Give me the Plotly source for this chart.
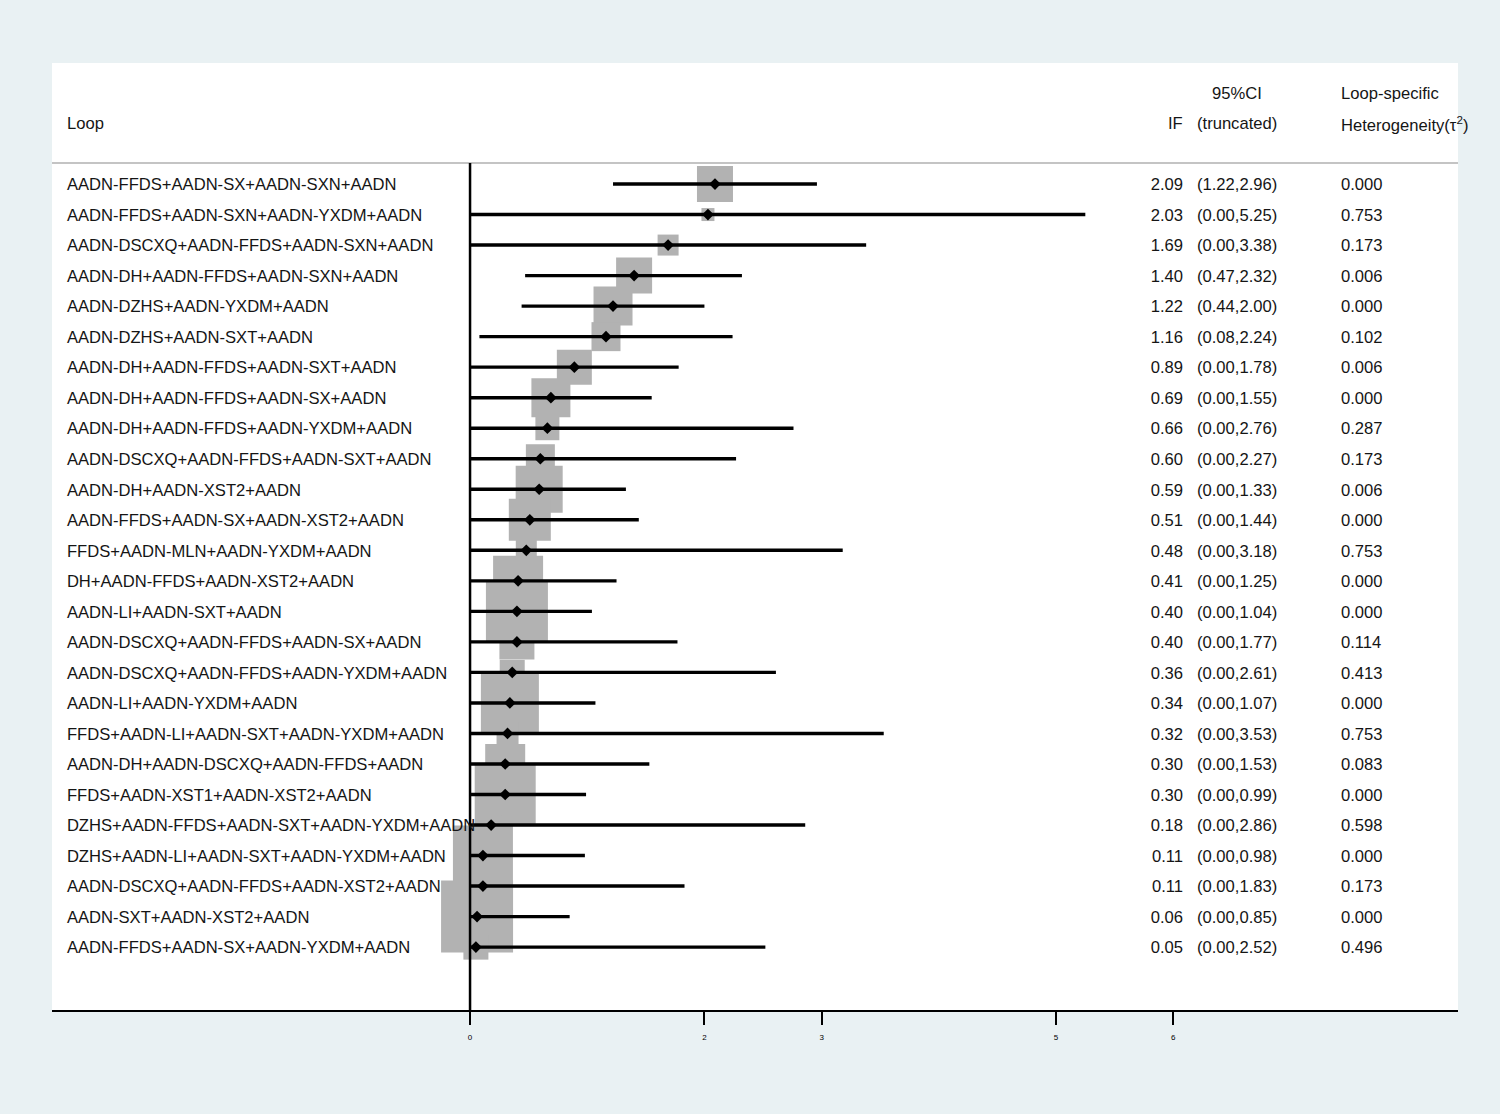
import plotly.graph_objects as go

# loop-specific inconsistency factors (IF) with truncated 95% CI
loops = [
    "AADN-FFDS+AADN-SX+AADN-SXN+AADN",
    "AADN-FFDS+AADN-SXN+AADN-YXDM+AADN",
    "AADN-DSCXQ+AADN-FFDS+AADN-SXN+AADN",
    "AADN-DH+AADN-FFDS+AADN-SXN+AADN",
    "AADN-DZHS+AADN-YXDM+AADN",
    "AADN-DZHS+AADN-SXT+AADN",
    "AADN-DH+AADN-FFDS+AADN-SXT+AADN",
    "AADN-DH+AADN-FFDS+AADN-SX+AADN",
    "AADN-DH+AADN-FFDS+AADN-YXDM+AADN",
    "AADN-DSCXQ+AADN-FFDS+AADN-SXT+AADN",
    "AADN-DH+AADN-XST2+AADN",
    "AADN-FFDS+AADN-SX+AADN-XST2+AADN",
    "FFDS+AADN-MLN+AADN-YXDM+AADN",
    "DH+AADN-FFDS+AADN-XST2+AADN",
    "AADN-LI+AADN-SXT+AADN",
    "AADN-DSCXQ+AADN-FFDS+AADN-SX+AADN",
    "AADN-DSCXQ+AADN-FFDS+AADN-YXDM+AADN",
    "AADN-LI+AADN-YXDM+AADN",
    "FFDS+AADN-LI+AADN-SXT+AADN-YXDM+AADN",
    "AADN-DH+AADN-DSCXQ+AADN-FFDS+AADN",
    "FFDS+AADN-XST1+AADN-XST2+AADN",
    "DZHS+AADN-FFDS+AADN-SXT+AADN-YXDM+AADN",
    "DZHS+AADN-LI+AADN-SXT+AADN-YXDM+AADN",
    "AADN-DSCXQ+AADN-FFDS+AADN-XST2+AADN",
    "AADN-SXT+AADN-XST2+AADN",
    "AADN-FFDS+AADN-SX+AADN-YXDM+AADN",
]
IF = [2.09, 2.03, 1.69, 1.40, 1.22, 1.16, 0.89, 0.69, 0.66, 0.60, 0.59, 0.51, 0.48,
      0.41, 0.40, 0.40, 0.36, 0.34, 0.32, 0.30, 0.30, 0.18, 0.11, 0.11, 0.06, 0.05]
ci_lo = [1.22, 0.00, 0.00, 0.47, 0.44, 0.08, 0.00, 0.00, 0.00, 0.00, 0.00, 0.00, 0.00,
         0.00, 0.00, 0.00, 0.00, 0.00, 0.00, 0.00, 0.00, 0.00, 0.00, 0.00, 0.00, 0.00]
ci_hi = [2.96, 5.25, 3.38, 2.32, 2.00, 2.24, 1.78, 1.55, 2.76, 2.27, 1.33, 1.44, 3.18,
         1.25, 1.04, 1.77, 2.61, 1.07, 3.53, 1.53, 0.99, 2.86, 0.98, 1.83, 0.85, 2.52]
tau2 = ["0.000", "0.753", "0.173", "0.006", "0.000", "0.102", "0.006", "0.000", "0.287",
        "0.173", "0.006", "0.000", "0.753", "0.000", "0.000", "0.114", "0.413", "0.000",
        "0.753", "0.083", "0.000", "0.598", "0.000", "0.173", "0.000", "0.496"]
# relative weights (box size)
weight = [3.6, 1.3, 2.1, 3.6, 3.9, 2.9, 3.5, 3.9, 2.4, 2.9, 4.7, 4.2, 2.1,
          5.0, 6.2, 3.5, 2.5, 5.8, 2.2, 4.0, 6.1, 2.0, 6.0, 5.0, 7.2, 2.5]
xticks = [0, 2, 3, 5, 6]

rows = list(range(len(loops)))
text_rows = [r + 0.07 for r in rows]  # nudge text to sit on the CI line
FONT = "Liberation Sans, Arial, sans-serif"
FS = 16.6
TXT = "#151515"

# column anchors (data units on the IF axis)
X_LABEL, X_IF, X_CI, X_TAU = -3.44, 6.084, 6.203, 7.432
Y_HEAD1, Y_HEAD2, Y_RULE = -2.98, -1.97, -0.69

fig = go.Figure()

fig.add_trace(go.Scatter(
    x=IF, y=rows, mode="markers",
    marker=dict(symbol="square", size=[w * 10 for w in weight], color="#b2b2b2",
                opacity=1, line=dict(width=0)),
    hoverinfo="skip",
))

# reference line at zero
fig.add_trace(go.Scatter(
    x=[0, 0], y=[Y_RULE, 27.1], mode="lines",
    line=dict(color="black", width=2.5), hoverinfo="skip",
))

fig.add_trace(go.Scatter(
    x=IF, y=rows, mode="markers",
    marker=dict(symbol="diamond", size=9, color="black", opacity=1),
    error_x=dict(type="data", symmetric=False,
                 array=[h - v for h, v in zip(ci_hi, IF)],
                 arrayminus=[v - l for l, v in zip(ci_lo, IF)],
                 color="black", thickness=3.4, width=0),
))

fig.add_trace(go.Scatter(
    x=[X_LABEL] * len(rows), y=text_rows, mode="text", text=loops,
    textposition="middle right", textfont=dict(family=FONT, size=FS, color=TXT),
    hoverinfo="skip",
))
fig.add_trace(go.Scatter(
    x=[X_IF] * len(rows), y=text_rows, mode="text", text=[f"{v:.2f}" for v in IF],
    textposition="middle left", textfont=dict(family=FONT, size=FS, color=TXT),
    hoverinfo="skip",
))
fig.add_trace(go.Scatter(
    x=[X_CI] * len(rows), y=text_rows, mode="text",
    text=[f"({l:.2f},{h:.2f})" for l, h in zip(ci_lo, ci_hi)],
    textposition="middle right", textfont=dict(family=FONT, size=FS, color=TXT),
    hoverinfo="skip",
))
fig.add_trace(go.Scatter(
    x=[X_TAU] * len(rows), y=text_rows, mode="text", text=tau2,
    textposition="middle right", textfont=dict(family=FONT, size=FS, color=TXT),
    hoverinfo="skip",
))

heads = [
    ("Loop", X_LABEL - 0.017, Y_HEAD2, "left"),
    ("IF", X_IF + 0.017, Y_HEAD2, "right"),
    ("95%CI", 6.545, Y_HEAD1, "center"),
    ("(truncated)", X_CI - 0.013, Y_HEAD2, "left"),
    ("Loop-specific", X_TAU - 0.017, Y_HEAD1, "left"),
    ("Heterogeneity(τ<sup>2</sup>)", X_TAU - 0.017, Y_HEAD2, "left"),
]
for t, x, y, anc in heads:
    fig.add_annotation(x=x, y=y, text=t, showarrow=False, xanchor=anc, yanchor="middle",
                       font=dict(family=FONT, size=FS, color=TXT))

fig.add_shape(type="line", xref="paper", x0=0, x1=1, yref="y", y0=Y_RULE, y1=Y_RULE,
              line=dict(color="#c4c4c4", width=2), layer="below")

fig.update_layout(
    width=1500, height=1114,
    paper_bgcolor="#e9f1f3", plot_bgcolor="white",
    margin=dict(l=52, r=42, t=63, b=104),
    showlegend=False,
    xaxis=dict(range=[-3.567, 8.43], showgrid=False, zeroline=False,
               showline=True, linecolor="black", linewidth=2,
               ticks="outside", ticklen=13, tickwidth=2, tickcolor="black",
               tickvals=xticks, ticktext=[str(t) for t in xticks],
               ticklabelstandoff=5,
               tickfont=dict(family=FONT, size=8, color="black")),
    yaxis=dict(range=[27.06, -3.965], visible=False),
)

fig.write_html("out.html", config={"displayModeBar": False},
               post_script="document.body.style.margin='0';"
                           "document.body.style.background='#e9f1f3';")
